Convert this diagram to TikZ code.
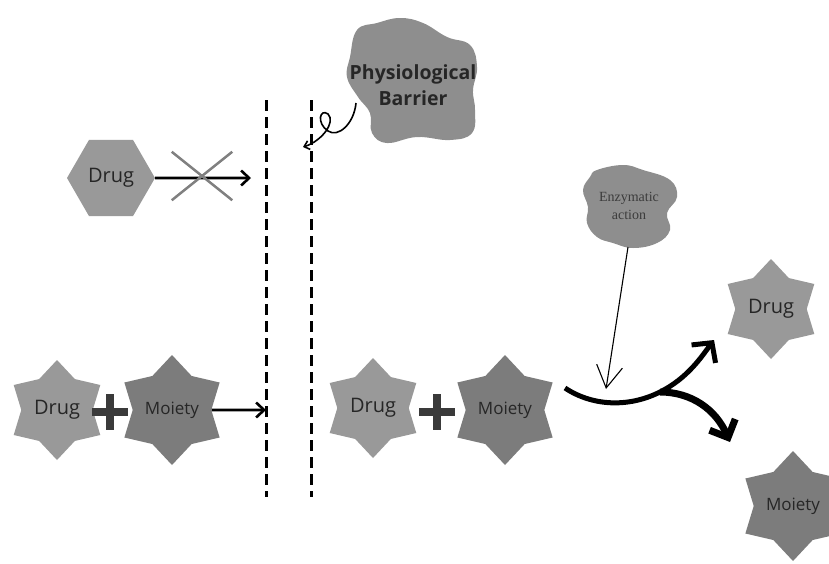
\documentclass[tikz,border=0pt]{standalone}
\usepackage{fontspec}
\setmainfont{Open Sans}
\newfontfamily\enzfont{Liberation Serif}
\usetikzlibrary{arrows.meta, shapes.geometric, shapes.misc}
\definecolor{druggray}{HTML}{999999}
\definecolor{moietygray}{HTML}{7C7C7C}
\definecolor{blobgray}{HTML}{8E8E8E}
\definecolor{plusgray}{HTML}{3A3A3A}
\definecolor{textgray}{HTML}{262626}
\definecolor{enztext}{HTML}{3C3C3C}

\begin{document}
\begin{tikzpicture}[x=1pt, y=-1pt,
  drugstar/.style={star, star points=6, star point ratio=1.4, fill=druggray, minimum size=100pt,
    inner sep=0pt, text=textgray, font=\fontsize{20}{22}\selectfont},
  moietystar/.style={drugstar, fill=moietygray, minimum size=110pt, font=\fontsize{17}{20}\selectfont},
  plussign/.style={minimum size=36pt, inner sep=0pt, path picture={
    \draw[line width=8pt, plusgray] (path picture bounding box.west) -- (path picture bounding box.east)
      (path picture bounding box.north) -- (path picture bounding box.south);}},
  wall/.style={line width=3pt, dash pattern=on 11pt off 6pt},
  push/.style={line width=2.6pt, -{Straight Barb[length=8pt,width=15pt]}}]
  \useasboundingbox (0,0) rectangle (829,563);

  % membrane
  \coordinate (wallAtop) at (266,100);
  \coordinate (wallAbot) at (266,497);
  \coordinate (wallBtop) at (311,100);
  \coordinate (wallBbot) at (311,497);
  \draw[wall] (wallAtop) -- (wallAbot);
  \draw[wall] (wallBtop) -- (wallBbot);

  % physiological barrier blob
  \fill[blobgray] plot[smooth cycle, tension=0.7] coordinates {(357,30) (377,23) (400,18) (423,23) (447,37)
    (470,45) (477,67) (473,90) (475,110) (472,133) (450,140) (417,137) (387,143) (372,133)
    (370,113) (358,97) (347,77) (350,57)};
  \node[font=\bfseries\fontsize{19.5}{26}\selectfont, text=textgray, align=center] (barrier) at (413,85)
    {Physiological\\Barrier};
  \coordinate (curlstart) at (356,103);
  \coordinate (curlend) at (303,147);
  \draw[line width=1.6pt, -{Straight Barb[length=5pt,width=9pt]}] (curlstart)
    .. controls (354,124) and (338,138) .. (328,131)
    .. controls (316,123) and (320,108) .. (328,114)
    .. controls (336,122) and (322,141) .. (curlend);

  % blocked drug
  \node[regular polygon, regular polygon sides=6, minimum size=88pt, inner sep=0pt, fill=druggray,
    text=textgray, font=\fontsize{20}{22}\selectfont] (hex) at (111,178) {Drug};
  \coordinate (stopA) at (251,178);
  \draw[push] (hex.east) -- (stopA);
  \node[cross out, draw=gray, line width=2.5pt, minimum width=58pt, minimum height=46pt] (block) at (202,176) {};

  % prodrug crossing
  \node[drugstar] (drugL) at (57,410) {Drug};
  \node[plussign] (plusL) at (110,412) {};
  \node[moietystar] (moietyL) at (172,410) {Moiety};
  \coordinate (wallhit) at (266,410);
  \draw[push] (moietyL.east) -- (wallhit);

  \node[drugstar] (drugM) at (373,408) {Drug};
  \node[plussign] (plusM) at (437,412) {};
  \node[moietystar] (moietyM) at (505,410) {Moiety};

  % enzymatic action blob
  \fill[blobgray] plot[smooth cycle, tension=0.7] coordinates {(597,170) (623,165) (643,170) (670,180)
    (677,197) (667,213) (670,230) (657,243) (633,248) (613,243) (597,237) (587,223) (588,207)
    (583,190) (590,177)};
  \node[font=\enzfont\fontsize{14}{18}\selectfont, text=enztext, align=center] (enzyme) at (629,206)
    {Enzymatic\\action};
  \coordinate (enzfoot) at (628,247);
  \coordinate (enztip) at (606,389);
  \draw[line width=1.1pt, -{Straight Barb[length=22pt,width=26pt,line width=1.1pt]}] (enzfoot) -- (enztip);

  % release
  \node[drugstar] (drugR) at (771,309) {Drug};
  \node[moietystar] (moietyR) at (793,506) {Moiety};
  \coordinate (splitstart) at (565,388);
  \coordinate (branch) at (660,392);
  \coordinate (drugtip) at (714,340);
  \coordinate (moietytip) at (730,442);
  \draw[line width=5pt, -{Straight Barb[length=14pt,width=30pt]}] (splitstart)
    .. controls (592,406) and (628,408) .. (branch)
    .. controls (688,378) and (702,356) .. (drugtip);
  \draw[line width=7pt, -{Straight Barb[length=14pt,width=28pt]}] (branch)
    .. controls (692,392) and (716,410) .. (moietytip);
\end{tikzpicture}
\end{document}
